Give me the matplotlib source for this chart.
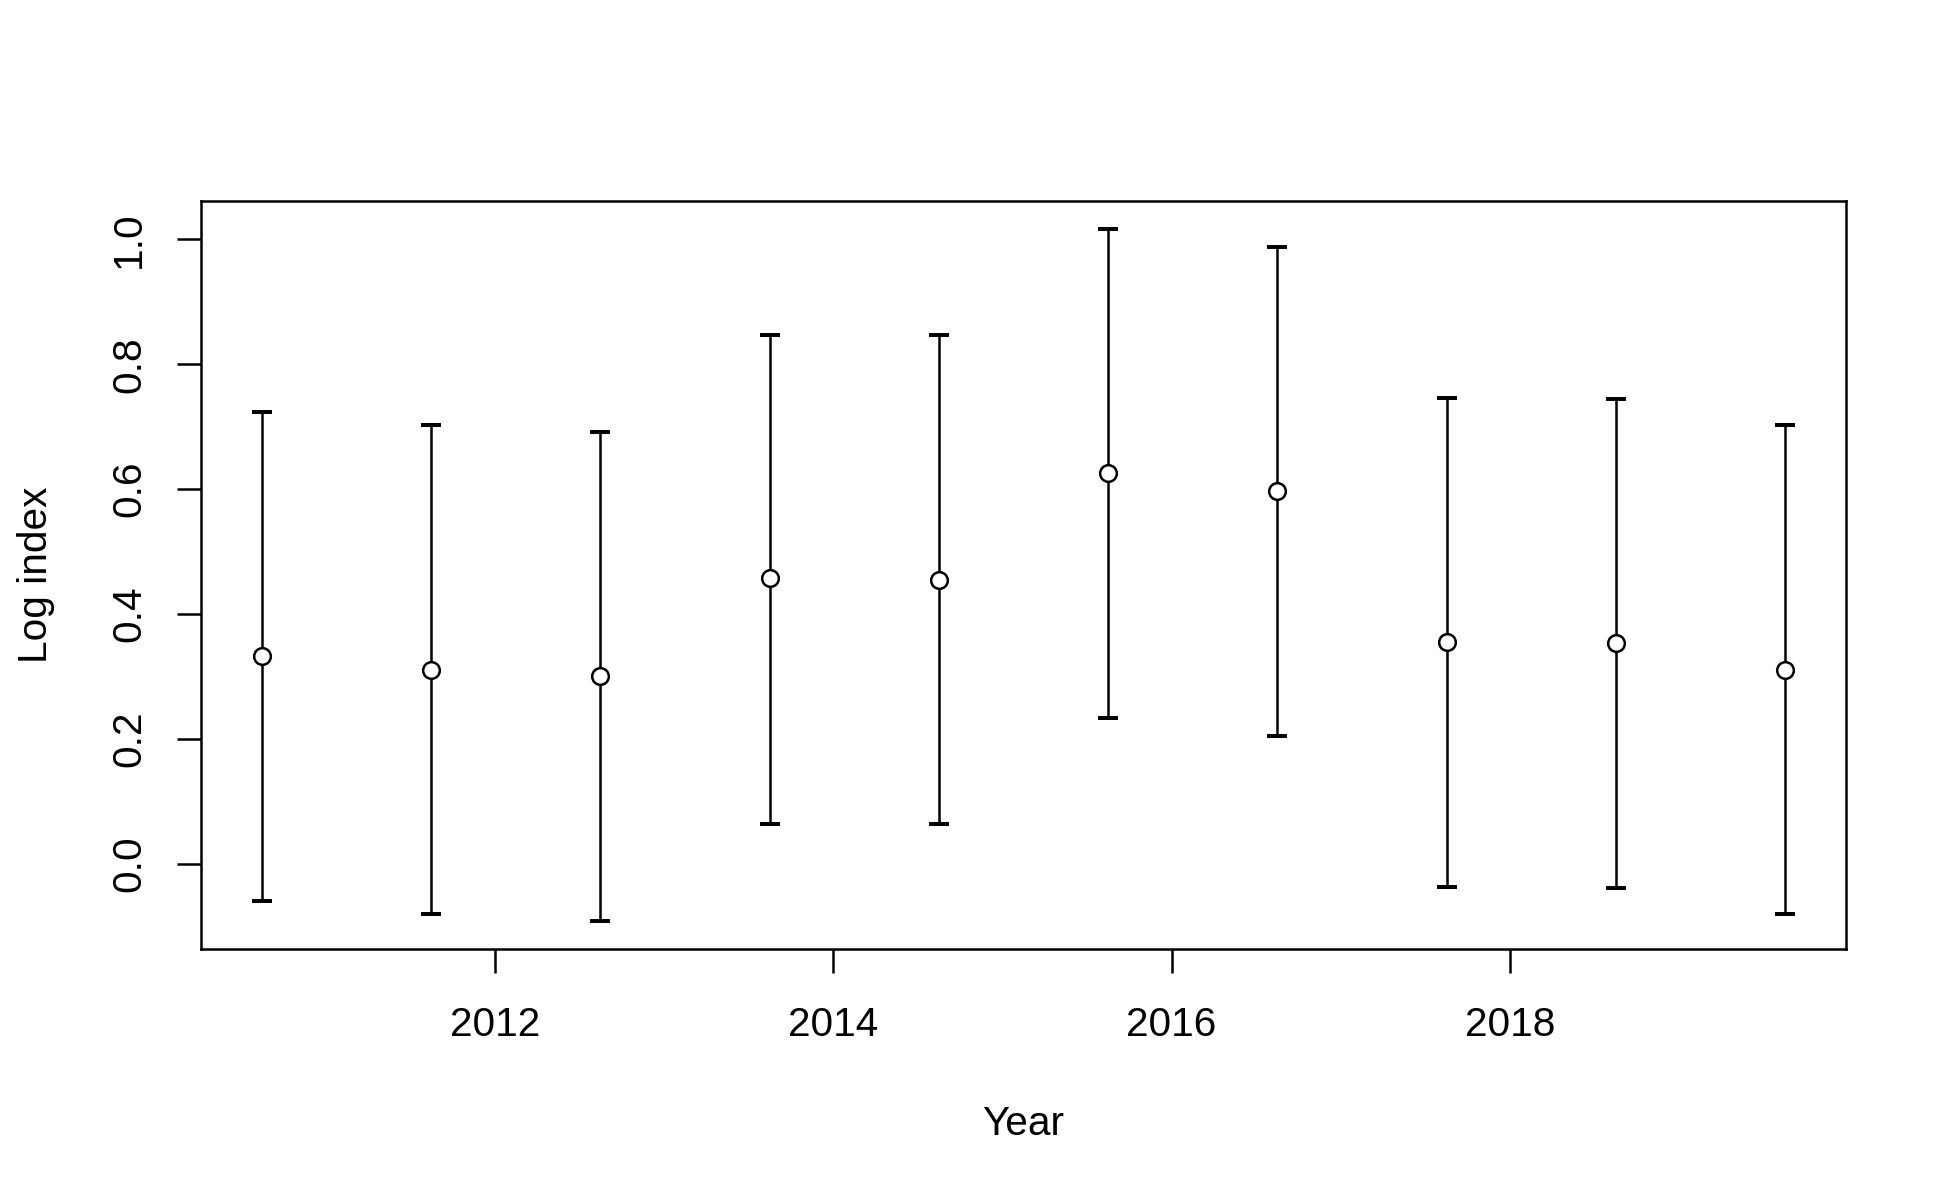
import matplotlib
matplotlib.use("Agg")
import matplotlib.pyplot as plt
import numpy as np

plt.rcParams['font.family'] = ['Liberation Sans', 'DejaVu Sans']

# Data
year_pos = [2010.625, 2011.625, 2012.625, 2013.625, 2014.625,
            2015.625, 2016.625, 2017.625, 2018.625, 2019.625]
log_index = [0.332, 0.311, 0.301, 0.457, 0.455, 0.626, 0.597, 0.355, 0.353, 0.311]
upper = [0.724, 0.703, 0.692, 0.847, 0.847, 1.017, 0.988, 0.746, 0.745, 0.703]
lower = [-0.060, -0.081, -0.092, 0.064, 0.064, 0.234, 0.205, -0.037, -0.039, -0.081]
x_ticks = [2012, 2014, 2016, 2018]
y_ticks = [0.0, 0.2, 0.4, 0.6, 0.8, 1.0]
y_tick_labels = ["0.0", "0.2", "0.4", "0.6", "0.8", "1.0"]

x = np.array(year_pos)
y = np.array(log_index)
up = np.array(upper)
lo = np.array(lower)

fig = plt.figure(figsize=(13, 8), dpi=150)
ax = fig.add_axes([201/1950, 1 - 949/1200, (1846-201)/1950, (949-201)/1200])

ax.errorbar(x, y, yerr=[y - lo, up - y], fmt='none', ecolor='black',
            elinewidth=1.2, capsize=4.8, capthick=1.9, zorder=2)
ax.plot(x, y, linestyle='none', marker='o', markersize=8.0,
        markerfacecolor='white', markeredgecolor='black', markeredgewidth=1.2, zorder=3)

# R-style 4% axis extension
def r_lim(vmin, vmax):
    d = (vmax - vmin) * 0.04
    return vmin - d, vmax + d

ax.set_xlim(*r_lim(x.min(), x.max()))
ax.set_ylim(*r_lim(lo.min(), up.max()))

ax.set_xticks(x_ticks)
ax.set_xticklabels([str(t) for t in x_ticks])
ax.set_yticks(y_ticks)
ax.set_yticklabels(y_tick_labels, rotation=90, va='center', ha='center')

for s in ax.spines.values():
    s.set_linewidth(1.2)
ax.tick_params(axis='both', direction='out', length=11.5, width=1.2, labelsize=19.5)
ax.tick_params(axis='x', pad=16)
ax.tick_params(axis='y', pad=23)

ax.set_xlabel("Year", fontsize=19.5)
ax.xaxis.set_label_coords(0.5, -0.209)
ax.set_ylabel("Log index", fontsize=19.5)
ax.yaxis.set_label_coords(-0.0888, 0.5)

fig.savefig("out.png", dpi=150)
